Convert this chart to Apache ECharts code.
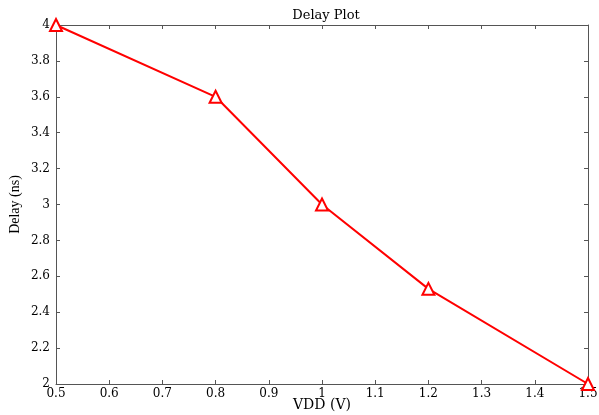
<!DOCTYPE html>
<html>
<head>
<meta charset="utf-8">
<script src="https://cdn.jsdelivr.net/npm/echarts@6/dist/echarts.min.js"></script>
<style>
  html, body { margin: 0; padding: 0; background: #fff; }
  #chart { width: 599px; height: 415px; }
</style>
</head>
<body>
<div id="chart"></div>
<script>
// Supply voltage (V) and measured delay (ns)
const vdd = [0.5, 0.8, 1.0, 1.2, 1.5];
const delay = [4.0, 3.6, 3.0, 2.53, 2.0];

const titleText = 'Delay Plot';
const xName = 'VDD (V)';
const yName = 'Delay (ns)';

const wideSerif = '"DejaVu Serif", "Liberation Serif", serif';
const serif = '"Liberation Serif", "DejaVu Serif", serif';
const axisColor = '#555';

const chart = echarts.init(document.getElementById('chart'));

const baseX = {
  type: 'value', min: 0.5, max: 1.5, interval: 0.1,
  axisLine: { show: true, onZero: false, lineStyle: { color: axisColor, width: 1 } },
  axisTick: { show: true, inside: true, length: 4, lineStyle: { color: axisColor } },
  splitLine: { show: false }
};
const baseY = {
  type: 'value', min: 2, max: 4, interval: 0.2,
  axisLine: { show: true, onZero: false, lineStyle: { color: axisColor, width: 1 } },
  axisTick: { show: true, inside: true, length: 4, lineStyle: { color: axisColor } },
  splitLine: { show: false }
};

chart.setOption({
  animation: false,
  backgroundColor: '#fff',
  title: {
    text: titleText, left: 321, top: 4, textAlign: 'center',
    textStyle: { fontFamily: wideSerif, fontSize: 13, fontWeight: 'normal', color: '#000' }
  },
  grid: { left: 56, right: 11, top: 25, bottom: 31, outerBoundsMode: 'none', containLabel: false },
  xAxis: [
    Object.assign({}, baseX, {
      position: 'bottom',
      name: xName, nameLocation: 'middle', nameGap: 14, nameMoveOverlap: false,
      nameTextStyle: { fontFamily: wideSerif, fontSize: 14, color: '#000' },
      axisLabel: {
        margin: 4, fontFamily: wideSerif, fontSize: 12, color: '#000',
        formatter: v => String(+v.toFixed(1))
      }
    }),
    Object.assign({}, baseX, { position: 'top', axisLabel: { show: false } })
  ],
  yAxis: [
    Object.assign({}, baseY, {
      position: 'left',
      name: yName, nameLocation: 'middle', nameGap: 34, nameMoveOverlap: false,
      nameTextStyle: { fontFamily: serif, fontSize: 14, color: '#000' },
      axisLabel: {
        margin: 6, fontFamily: wideSerif, fontSize: 12, color: '#000',
        formatter: v => String(+v.toFixed(1))
      }
    }),
    Object.assign({}, baseY, { position: 'right', axisLabel: { show: false } })
  ],
  series: [{
    type: 'line',
    data: vdd.map((v, i) => [v, delay[i]]),
    lineStyle: { color: '#ff0000', width: 2 },
    itemStyle: { color: '#ff0000', borderColor: '#ff0000', borderWidth: 2 },
    symbol: 'emptyTriangle',
    symbolSize: 12,
    clip: false
  }]
});
</script>
</body>
</html>
